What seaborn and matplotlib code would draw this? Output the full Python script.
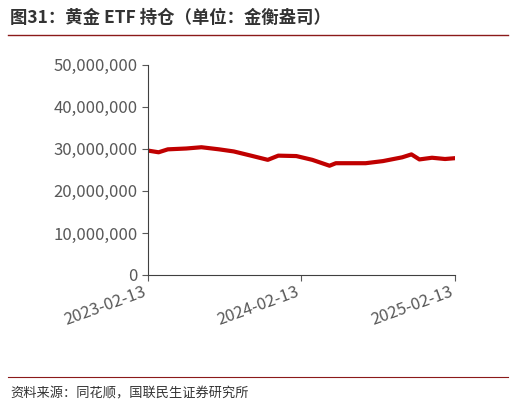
import matplotlib
matplotlib.use("Agg")
import matplotlib.pyplot as plt
import matplotlib.dates as mdates
import seaborn as sns
import pandas as pd

dates = ["2023-02-13","2023-03-10","2023-04-01","2023-05-15","2023-06-20","2023-08-01","2023-09-05",
         "2023-10-20","2023-11-25","2023-12-20","2024-02-01","2024-03-10","2024-04-20","2024-05-05",
         "2024-07-15","2024-08-25","2024-10-10","2024-11-01","2024-11-20","2024-12-20","2025-01-20","2025-02-13"]
values = [29.6,29.2,29.9,30.1,30.4,29.9,29.4,28.3,27.4,28.4,28.3,27.4,26.0,26.6,
          26.6,27.1,28.0,28.7,27.5,27.9,27.6,27.8]
values = [v*1e6 for v in values]
df = pd.DataFrame({"date": pd.to_datetime(dates), "value": values})

plt.rcParams['font.family'] = ['Noto Sans CJK SC', 'DejaVu Sans']
fig = plt.figure(figsize=(5.16, 4.08), dpi=100)
ax = fig.add_axes([0.287, 0.326, 0.595, 0.515])
sns.lineplot(data=df, x="date", y="value", color="#C00000", linewidth=3, ax=ax)
ax.set_ylim(0, 50e6)
ax.set_yticks(range(0, 50000001, 10000000))
ax.yaxis.set_major_formatter(matplotlib.ticker.FuncFormatter(lambda v, p: f"{int(v):,}"))
ticks = pd.to_datetime(["2023-02-13","2024-02-13","2025-02-13"])
ax.set_xticks(ticks)
ax.set_xticklabels(["2023-02-13","2024-02-13","2025-02-13"], rotation=20, ha="right")
ax.set_xlim(ticks[0], ticks[-1])
ax.set_xlabel(""); ax.set_ylabel("")
for s in ["top","right"]:
    ax.spines[s].set_visible(False)
ax.spines["left"].set_color("#404040"); ax.spines["bottom"].set_color("#404040")
ax.tick_params(labelsize=12, colors="#595959", length=4)
ax.tick_params(axis="x", pad=2)
fig.text(0.02, 0.955, "图31：黄金 ETF 持仓（单位：金衡盎司）", fontsize=12.5, fontweight="bold", color="#333333", va="center")
fig.add_artist(plt.Line2D([0.015, 0.985], [0.915, 0.915], color="#8B1A1A", lw=1))
fig.add_artist(plt.Line2D([0.015, 0.985], [0.075, 0.075], color="#8B1A1A", lw=0.8))
fig.text(0.02, 0.035, "资料来源：同花顺，国联民生证券研究所", fontsize=9.5, color="#333333", va="center")
fig.savefig("out.png", dpi=100)
